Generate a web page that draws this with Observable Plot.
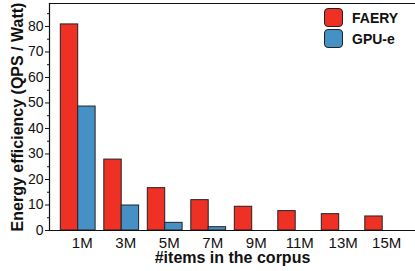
<!DOCTYPE html>
<html>
<head>
<meta charset="utf-8">
<script src="https://cdn.jsdelivr.net/npm/d3@7"></script>
<script src="https://cdn.jsdelivr.net/npm/@observablehq/plot@0.6"></script>
<style>
  body { margin: 0; background: #fff; }
  #wrap { position: relative; width: 415px; height: 271px; font-family: "Liberation Sans", Arial, sans-serif; }
  #legend { position: absolute; left: 324px; top: 7px; }
  .item { display: flex; align-items: center; height: 21px; }
  .sw { width: 17px; height: 17px; border: 1px solid #222; border-radius: 4px; box-sizing: content-box; margin-right: 9px; }
  .lab { font-weight: bold; font-size: 14px; color: #111; }
</style>
</head>
<body>
<div id="wrap"></div>
<script>
const categories = ["1M", "3M", "5M", "7M", "9M", "11M", "13M", "15M"];
const series = ["FAERY", "GPU-e"];
const colors = ["#EE3124", "#4591C6"];
const faeryValues = [80.8, 27.8, 16.6, 11.9, 9.3, 7.6, 6.4, 5.5];
const gpuValues = [48.6, 9.8, 3.0, 1.3, null, null, null, null];
const yMajorTicks = [0, 10, 20, 30, 40, 50, 60, 70, 80];
const yMinorTicks = [5, 15, 25, 35, 45, 55, 65, 75, 85];
const yLabel = "Energy efficiency (QPS / Watt)";
const xLabel = "#items in the corpus";

// group layout in category-index units: each group is centred on its index,
// the two series bars sit side by side
const barWidth = 0.4;
const rows = [];
categories.forEach((c, i) => {
  [faeryValues, gpuValues].forEach((vals, s) => {
    if (vals[i] != null) {
      rows.push({cat: c, series: series[s], value: vals[i],
                 x1: i - barWidth + s * barWidth, x2: i + s * barWidth});
    }
  });
});

const chart = Plot.plot({
  width: 415,
  height: 271,
  marginLeft: 49,
  marginRight: 0,
  marginTop: 3,
  marginBottom: 41,
  style: {fontFamily: "Liberation Sans, Arial, sans-serif", fontSize: "14px", color: "#111"},
  x: {domain: [-0.66, 7.754], label: null},
  y: {domain: [0, 89], label: null},
  color: {domain: series, range: colors},
  marks: [
    Plot.rectY(rows, {x1: "x1", x2: "x2", y: "value", fill: "series", stroke: "#222", strokeWidth: 1}),
    Plot.frame({anchor: "bottom", stroke: "#111", strokeWidth: 1.2}),
    Plot.frame({anchor: "top", stroke: "#111", strokeWidth: 1.2}),
    Plot.frame({anchor: "left", stroke: "#111", strokeWidth: 1.2}),
    Plot.axisY({ticks: yMajorTicks, tickSize: 4, tickPadding: 2, fontSize: 14, label: null}),
    Plot.axisY({ticks: yMinorTicks, tickSize: 2, tickFormat: () => "", label: null}),
    Plot.axisX({ticks: d3.range(categories.length), tickFormat: i => categories[i], tickSize: 0, tickPadding: 7, dx: 4, fontSize: 15, label: null}),
    Plot.text([yLabel], {frameAnchor: "left", text: d => d, rotate: -90, dx: -32, fontWeight: "bold", fontSize: 16, textAnchor: "middle", lineAnchor: "middle"}),
    Plot.text([xLabel], {frameAnchor: "bottom", text: d => d, dy: 21, fontWeight: "bold", fontSize: 16, lineAnchor: "top"})
  ]
});

const wrap = document.getElementById("wrap");
wrap.appendChild(chart);
const legend = document.createElement("div");
legend.id = "legend";
series.forEach((s, i) => {
  const item = document.createElement("div");
  item.className = "item";
  const sw = document.createElement("div");
  sw.className = "sw";
  sw.style.background = colors[i];
  const lab = document.createElement("span");
  lab.className = "lab";
  lab.textContent = s;
  item.appendChild(sw);
  item.appendChild(lab);
  legend.appendChild(item);
});
wrap.appendChild(legend);
</script>
</body>
</html>
